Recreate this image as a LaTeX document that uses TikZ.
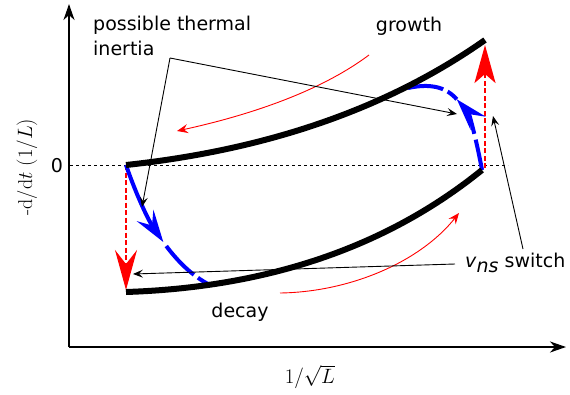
\documentclass[tikz,border=0pt]{standalone}
\usepackage{fontspec}
\newfontfamily\dejavu{DejaVu Sans}
\usetikzlibrary{arrows.meta}
\begin{document}
\begin{tikzpicture}[x=1pt,y=-1pt,
  lbl/.style={font=\dejavu\fontsize{19}{25}\selectfont, inner sep=0pt},
  mlbl/.style={font=\fontsize{20}{24}\selectfont, inner sep=0pt},
  axis/.style={line width=2.2pt, -{Stealth[length=16pt,width=11pt,inset=5pt]}},
  curve/.style={line width=6pt, line cap=butt},
  zeroline/.style={line width=0.9pt, dash pattern=on 3pt off 3pt},
  reddot/.style={red, line width=2.5pt, dash pattern=on 5pt off 2.5pt},
  blueline/.style={blue, line width=4pt, line cap=butt},
  bluehead/.style={blueline, -{Stealth[length=32pt,width=20pt,inset=12pt]}},
  thin/.style={line width=0.9pt, -{Stealth[length=10pt,width=8pt,inset=4pt]}},
  redthin/.style={red, line width=0.9pt, -{Stealth[length=11pt,width=9pt,inset=4pt]}}
]
\useasboundingbox (0,0) rectangle (570,394);

% axes
\coordinate (O) at (69,347);
\coordinate (ytop) at (69,4);
\coordinate (xend) at (566,347);
\draw[axis] (O) -- (ytop);
\draw[axis] (O) -- (xend);

% zero line
\coordinate (z0) at (70,165);
\coordinate (z1) at (508,165);
\draw[zeroline] (z0) -- (z1);

% curve end points
\coordinate (A) at (126,165);
\coordinate (B) at (485,40);
\coordinate (C) at (126,292);
\coordinate (D) at (482,170);

% red dotted jumps
\coordinate (Cdown) at (126,290);
\coordinate (Dstart) at (485,168);
\coordinate (Bup) at (485,45);
\draw[reddot, -{Stealth[length=40pt,width=22pt,inset=14pt]}] (A) -- (Cdown);
\draw[reddot, -{Stealth[length=38pt,width=21pt,inset=9pt]}] (Dstart) -- (Bup);

% blue paths (split at the arrow tips)
\coordinate (Ltip) at (163.3,242);
\coordinate (Lend) at (210,285);
\draw[bluehead] (A) .. controls (134.8,190.85) and (147.2,218.5) .. (Ltip);
\draw[blueline, dash pattern=on 40pt off 5pt, dash phase=40pt]
  (Ltip) .. controls (176.4,260.3) and (192,276) .. (Lend);
\coordinate (Rtip) at (456.8,99.3);
\coordinate (Rend) at (408,88);
\draw[bluehead, dash pattern=on 31pt off 6pt on 200pt off 0pt]
  (D) .. controls (475.8,136.2) and (468.7,112.7) .. (Rtip);
\draw[blueline, dash pattern=on 12pt off 5pt on 200pt off 0pt]
  (Rtip) .. controls (445.75,86.9) and (430.6,83.2) .. (Rend);

% thick curves
\draw[curve] (A) .. controls (268.7,149.7) and (388.3,108) .. (B);
\draw[curve] (C) .. controls (268.7,287.3) and (387.3,246.7) .. (D);

% red thin arrows
\coordinate (g0) at (369,55);
\coordinate (g1) at (177,131);
\draw[redthin] (g0) .. controls (326.3,87) and (262.3,112.3) .. (g1);
\coordinate (d0) at (280,293);
\coordinate (d1) at (459,213);
\draw[redthin] (d0) .. controls (350,292) and (420,262) .. (d1);

% labels
\node[lbl, anchor=north west, align=left] (inertia) at (93,16) {possible thermal\\inertia};
\node[lbl] (growth) at (409,26) {growth};
\node[lbl] (decay) at (240,312) {decay};
\node[lbl] (zero) at (57,166) {0};
\node[lbl, anchor=base west] (switch) at (465,267) {\textit{v}\raisebox{-5pt}{\textit{ns}} switch};
\node[mlbl] (xlabel) at (310,377) {$1/\sqrt{L}$};
\node[mlbl, rotate=90] (ylabel) at (27,167) {-d/d$t$ $(1/L)$};

% thin black pointers
\coordinate (iv) at (170,58);
\coordinate (i1) at (142,207);
\coordinate (i2) at (457,114);
\draw[thin] (iv) -- (i1);
\draw[thin] (iv) -- (i2);
\coordinate (s0) at (455,264);
\coordinate (s1) at (133,274);
\coordinate (s2) at (523,249);
\coordinate (s3) at (493,116);
\draw[thin] (s0) -- (s1);
\draw[thin] (s2) -- (s3);
\end{tikzpicture}
\end{document}
